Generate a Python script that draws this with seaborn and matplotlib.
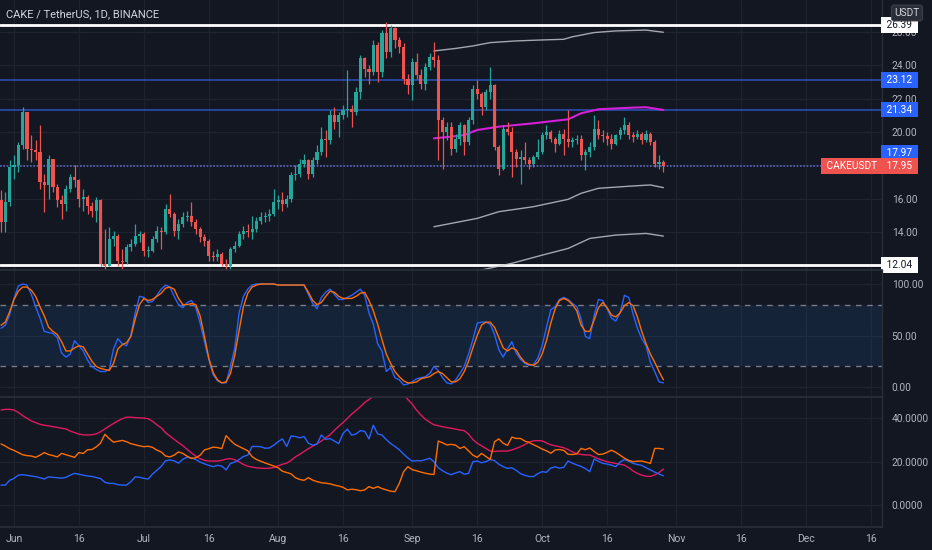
import numpy as np
import pandas as pd
import matplotlib
matplotlib.use("Agg")
import matplotlib.pyplot as plt
import matplotlib.dates as mdates
import matplotlib.transforms as mtransforms
import seaborn as sns

# ---- data (daily candles from 2021-05-29) ----
START = "2021-05-29"
first_open = 15.9
close = [14.6, 15.8, 17.9, 18.0, 19.2, 21.2, 19.0, 18.9, 18.8, 17.0,
         16.8, 18.4, 16.7, 15.9, 15.7, 16.6, 17.3, 17.1, 16.0, 16.1,
         15.6, 15.3, 15.9, 12.1, 12.0, 13.6, 13.8, 12.3, 12.2, 13.1,
         13.3, 13.8, 13.9, 12.9, 12.9, 13.6, 14.1, 14.0, 15.4, 15.1,
         14.1, 14.5, 14.9, 15.0, 14.6, 14.2, 13.7, 13.5, 12.6, 12.5,
         12.7, 12.1, 11.95, 13.0, 13.2, 13.9, 14.1, 14.0, 14.2, 14.7,
         14.9, 15.0, 15.1, 15.8, 15.9, 15.7, 16.0, 17.4, 17.5, 18.1,
         18.3, 17.5, 18.3, 18.8, 19.6, 19.5, 21.0, 20.6, 21.0, 21.3,
         21.4, 21.2, 22.4, 24.4, 23.8, 23.6, 25.2, 23.6, 25.9, 24.8,
         26.2, 25.5, 25.1, 23.2, 22.8, 24.2, 23.4, 22.9, 23.9, 24.5,
         24.3, 20.7, 20.0, 20.3, 19.0, 19.6, 20.4, 19.4, 20.7, 22.6,
         22.3, 21.5, 22.4, 22.8, 19.1, 17.8, 20.2, 20.0, 18.8, 18.4,
         18.5, 18.3, 18.1, 18.5, 18.8, 19.8, 20.0, 19.6, 19.3, 19.9,
         19.6, 19.4, 19.5, 19.6, 18.6, 18.8, 19.1, 20.2, 19.8, 19.75,
         19.6, 19.3, 19.8, 20.1, 20.4, 19.8, 19.7, 19.9, 19.5, 19.9,
         19.4, 18.1, 18.2, 17.95]
high = [16.5, 16.4, 18.3, 18.6, 19.4, 21.5, 21.2, 19.8, 19.5, 20.4,
        17.5, 18.6, 18.4, 16.9, 16.2, 16.8, 17.5, 18.0, 17.2, 16.6,
        16.2, 15.8, 16.1, 16.0, 14.2, 14.3, 14.1, 13.9, 13.0, 13.3,
        13.6, 14.5, 14.1, 14.0, 13.2, 13.8, 14.4, 14.3, 15.7, 16.3,
        15.2, 14.8, 15.2, 15.3, 15.8, 14.8, 14.3, 13.9, 13.6, 12.9,
        13.0, 12.8, 12.4, 13.1, 13.5, 14.1, 14.4, 14.5, 15.0, 14.9,
        15.2, 15.2, 15.4, 16.6, 16.2, 16.4, 16.2, 17.6, 18.0, 18.4,
        18.7, 18.4, 18.5, 19.2, 20.3, 20.1, 21.3, 21.5, 21.2, 21.6,
        23.7, 21.6, 22.7, 24.6, 24.5, 24.0, 25.5, 25.4, 26.1, 26.6,
        26.4, 26.3, 25.7, 25.3, 23.5, 24.4, 24.7, 23.8, 24.1, 24.7,
        25.4, 24.6, 20.9, 20.6, 20.6, 19.9, 20.6, 20.5, 20.9, 22.8,
        23.1, 22.4, 22.6, 23.9, 22.9, 19.2, 20.4, 20.6, 20.3, 19.0,
        18.9, 19.4, 18.5, 18.6, 19.6, 20.0, 20.4, 20.1, 19.7, 20.1,
        20.2, 21.3, 19.7, 19.8, 19.8, 19.0, 19.4, 21.0, 20.7, 20.1,
        20.0, 19.9, 19.9, 20.3, 20.9, 20.6, 20.0, 20.1, 20.0, 20.1,
        20.0, 19.5, 18.6, 18.3]
low = [14.0, 14.0, 15.6, 17.2, 17.6, 19.0, 18.3, 18.2, 18.3, 16.6,
       15.2, 16.0, 16.4, 15.5, 14.8, 15.3, 16.4, 16.7, 15.5, 15.3,
       15.1, 14.9, 14.6, 12.0, 11.7, 12.0, 13.2, 12.0, 11.8, 12.1,
       12.9, 13.2, 13.4, 12.6, 12.5, 12.8, 13.4, 13.0, 13.9, 14.9,
       13.8, 13.6, 14.3, 14.7, 14.4, 13.9, 13.4, 13.2, 12.3, 12.3,
       12.3, 12.0, 11.7, 11.8, 12.8, 13.1, 13.6, 13.7, 13.6, 14.0,
       14.5, 14.6, 14.7, 15.0, 15.4, 15.3, 15.5, 15.8, 17.1, 17.3,
       17.9, 17.2, 17.3, 18.1, 18.6, 18.5, 19.3, 20.2, 19.7, 20.8,
       20.9, 20.3, 21.0, 22.0, 23.3, 22.9, 23.4, 23.0, 23.3, 24.4,
       24.5, 25.0, 24.7, 22.9, 22.3, 21.9, 23.2, 22.6, 22.5, 23.7,
       23.9, 18.3, 17.8, 19.5, 18.6, 18.8, 19.2, 18.6, 19.2, 20.5,
       22.0, 21.0, 21.3, 22.0, 18.9, 17.4, 17.7, 19.8, 17.3, 17.9,
       16.9, 18.1, 17.8, 17.9, 18.4, 18.7, 19.6, 19.4, 18.8, 19.2,
       18.6, 19.1, 19.1, 19.3, 18.3, 17.7, 18.5, 18.9, 19.6, 19.4,
       19.2, 19.0, 19.2, 19.6, 19.9, 19.6, 19.4, 19.6, 19.3, 19.4,
       19.2, 17.9, 17.8, 17.6]

stoch_k = [57, 60, 70, 86, 98, 100, 99, 90, 78, 67,
           54, 53, 52, 48, 33, 29, 32, 45, 40, 35,
           26, 20, 17, 15, 15, 17, 37, 47, 42, 40,
           50, 72, 88, 87, 82, 83, 89, 95, 99, 97,
           88, 80, 77, 82, 84, 77, 62, 44, 27, 12,
           6, 4, 4, 20, 38, 72, 88, 95, 99, 100,
           100, 100, 100, 100, 99, 99, 99, 99, 99, 99,
           99, 90, 81, 76, 87, 92, 95, 90, 85, 85,
           87, 89, 92, 95, 89, 72, 61, 42, 35, 15,
           19, 9, 7, 2, 3, 5, 8, 9, 10, 13,
           20, 16, 9, 4, 3, 7, 13, 20, 32, 46,
           62, 63, 63, 61, 51, 36, 29, 37, 44, 33,
           27, 23, 21, 22, 28, 40, 58, 75, 78, 85,
           87, 85, 81, 78, 66, 49, 47, 69, 85, 84,
           76, 67, 64, 72, 89, 87, 71, 57, 47, 40,
           24, 15, 5, 4]
stoch_d = [60, 63, 73, 85, 93, 97, 97, 94, 88, 78,
           69, 58, 54, 51, 44, 35, 35, 38, 40, 39,
           32, 25, 20, 18, 17, 16, 23, 37, 41, 43,
           49, 66, 80, 86, 84, 85, 88, 91, 96, 97,
           95, 86, 80, 80, 81, 80, 69, 49, 28, 14,
           7, 4, 5, 13, 31, 55, 78, 91, 97, 99,
           100, 100, 100, 100, 99, 99, 99, 99, 99, 99,
           99, 92, 84, 80, 82, 88, 93, 92, 88, 86,
           86, 86, 88, 91, 92, 84, 74, 61, 46, 32,
           23, 15, 10, 6, 4, 4, 5, 8, 9, 10,
           13, 15, 13, 9, 5, 5, 8, 15, 25, 38,
           50, 60, 63, 63, 58, 48, 38, 35, 38, 36,
           29, 24, 22, 21, 24, 32, 45, 62, 76, 84,
           86, 84, 80, 74, 60, 54, 54, 65, 77, 82,
           77, 70, 68, 72, 79, 82, 79, 68, 54, 42,
           32, 24, 15, 7]

adx = [43.8, 44.1, 44.1, 43.8, 42.7, 41.2, 40.0, 38.8, 38.0, 37.2,
       36.8, 36.5, 36.1, 35.8, 35.4, 35.1, 34.1, 33.4, 32.7, 32.4,
       32.3, 32.4, 32.8, 33.8, 35.1, 36.4, 37.6, 38.8, 39.8, 40.5,
       40.5, 40.3, 40.2, 40.1, 39.8, 38.6, 37.0, 35.6, 33.4, 31.8,
       30.3, 28.8, 27.4, 25.7, 24.0, 22.5, 21.4, 20.6, 20.3, 20.3,
       20.3, 20.6, 21.2, 21.4, 20.9, 19.9, 18.7, 17.9, 17.5, 17.2,
       17.0, 16.9, 17.0, 17.3, 18.1, 18.8, 19.3, 20.6, 22.2, 23.4,
       24.7, 26.0, 27.1, 28.3, 29.5, 31.0, 32.4, 34.4, 36.3, 38.0,
       39.9, 41.9, 43.6, 45.3, 47.3, 48.6, 50.2, 51.5, 52.5, 53.2,
       53.5, 53.3, 52.6, 51.0, 48.6, 46.5, 43.7, 41.5, 39.6, 38.2,
       37.0, 36.6, 36.1, 35.7, 35.4, 35.0, 34.6, 34.3, 32.7, 30.2,
       28.5, 27.3, 26.1, 24.9, 24.7, 24.9, 24.9, 24.9, 25.4, 26.1,
       26.9, 27.9, 29.1, 29.6, 29.7, 29.6, 28.6, 27.8, 27.3, 26.9,
       26.4, 25.6, 24.5, 23.7, 23.3, 23.1, 23.1, 22.2, 21.3, 20.6,
       20.0, 19.6, 19.2, 18.8, 18.4, 17.2, 15.7, 14.6, 13.8, 13.3,
       13.2, 13.9, 15.0, 16.6]
plus_di = [9.2, 9.2, 11.4, 12.3, 13.8, 14.0, 13.7, 13.4, 13.1, 12.6,
           12.0, 13.0, 12.8, 12.6, 12.4, 12.8, 13.8, 14.6, 14.2, 13.8,
           13.4, 13.2, 12.7, 12.2, 10.5, 10.0, 10.0, 9.4, 9.2, 9.2,
           10.8, 13.0, 12.8, 12.3, 12.0, 14.3, 16.0, 17.8, 20.4, 20.8,
           20.4, 19.3, 21.1, 22.1, 21.7, 21.0, 19.8, 19.0, 18.3, 17.7,
           18.3, 18.0, 16.2, 19.2, 19.8, 21.0, 22.4, 23.0, 27.0, 27.0,
           26.9, 26.2, 26.3, 27.6, 29.2, 30.5, 27.0, 31.8, 31.6, 31.0,
           31.6, 28.5, 27.6, 28.1, 32.3, 30.3, 30.6, 29.5, 28.3, 33.0,
           35.0, 32.2, 32.8, 34.3, 34.0, 30.5, 36.8, 32.8, 32.3, 30.2,
           28.4, 27.0, 25.5, 23.5, 21.7, 20.2, 20.5, 20.4, 20.9, 21.6,
           20.0, 17.2, 15.8, 14.7, 14.0, 14.8, 15.4, 14.2, 14.6, 20.0,
           20.3, 19.5, 20.0, 21.0, 20.5, 18.8, 17.7, 16.9, 17.2, 16.0,
           14.5, 13.7, 13.2, 13.1, 14.5, 15.4, 15.1, 17.1, 17.6, 17.0,
           17.4, 20.3, 19.3, 18.5, 17.8, 16.8, 15.4, 21.2, 20.2, 19.2,
           18.9, 18.4, 17.7, 19.8, 21.0, 20.2, 19.2, 18.7, 18.3, 17.2,
           16.2, 15.2, 14.3, 13.5]
minus_di = [28.2, 27.2, 26.0, 25.2, 24.2, 23.2, 22.8, 22.6, 22.0, 23.0,
            24.2, 23.3, 22.8, 22.2, 23.8, 23.2, 22.6, 22.0, 24.2, 23.8,
            25.5, 25.6, 26.8, 28.6, 32.6, 30.6, 29.0, 29.4, 29.8, 29.2,
            28.3, 27.8, 27.3, 26.9, 27.1, 26.6, 25.3, 24.5, 22.6, 22.2,
            23.0, 24.5, 23.8, 22.5, 21.5, 21.8, 23.0, 25.4, 26.0, 26.7,
            26.5, 26.0, 32.0, 29.8, 28.0, 27.0, 26.0, 25.0, 22.3, 21.0,
            20.2, 19.4, 18.7, 18.0, 17.2, 15.6, 15.0, 14.4, 12.6, 11.8,
            11.4, 12.6, 11.5, 10.8, 10.3, 10.1, 9.8, 9.2, 8.8, 8.2,
            7.0, 7.3, 7.1, 6.6, 7.0, 8.5, 7.7, 8.5, 7.6, 7.0,
            6.4, 6.2, 10.0, 15.4, 17.7, 16.3, 15.8, 15.2, 14.7, 14.3,
            14.1, 29.5, 28.7, 27.7, 28.0, 27.6, 26.1, 26.9, 25.0, 23.0,
            22.0, 23.8, 22.4, 21.0, 29.2, 30.5, 28.5, 27.5, 31.3, 30.7,
            30.7, 29.5, 28.8, 27.8, 26.9, 25.8, 25.0, 23.9, 25.4, 25.6,
            25.2, 23.4, 23.3, 23.6, 26.1, 25.5, 26.3, 24.7, 23.3, 23.5,
            24.3, 25.3, 24.3, 23.0, 21.6, 20.6, 20.0, 20.2, 20.3, 19.8,
            19.2, 26.1, 26.1, 25.8]

# anchored bands (day offset from START, value)
upper_day = [100, 105, 109, 113, 119, 124, 130, 132, 137, 142, 149, 153]
upper_val = [24.85, 25.0, 25.15, 25.35, 25.45, 25.5, 25.55, 25.7, 25.95, 26.05, 26.1, 25.97]
mid_day = [100, 106, 110, 115, 123, 131, 134, 138, 146, 150, 153]
mid_val = [14.33, 14.63, 14.83, 15.23, 15.53, 15.97, 16.33, 16.63, 16.77, 16.83, 16.67]
bot_day = [108, 111, 118, 125, 131, 136, 142, 149, 153]
bot_val = [11.5, 11.74, 12.14, 12.63, 13.03, 13.63, 13.83, 13.93, 13.77]
vwap_day = [100, 104, 107, 110, 115, 123, 131, 134, 138, 146, 149, 153]
vwap_val = [19.62, 19.72, 19.82, 20.12, 20.32, 20.52, 20.76, 21.12, 21.36, 21.46, 21.48, 21.32]

white_levels = [26.39, 12.04]
blue_levels = [23.12, 21.34]
dotted_level = 17.97
last_price = 17.95

price_ticks = [14, 16, 18, 20, 22, 24, 26]
price_labels = ["14.00", "16.00", "", "20.00", "22.00", "24.00", "26.00"]

tick_dates = ["2021-06-01", "2021-06-16", "2021-07-01", "2021-07-16", "2021-08-01",
              "2021-08-16", "2021-09-01", "2021-09-16", "2021-10-01", "2021-10-16",
              "2021-11-01", "2021-11-16", "2021-12-01", "2021-12-16"]
tick_labels = ["Jun", "16", "Jul", "16", "Aug", "16", "Sep", "16", "Oct", "16",
               "Nov", "16", "Dec", "16"]

# ---- style ----
BG = "#131722"
GRID = "#1e222d"
SEP = "#2a2e39"
TXT = "#b2b5be"
UP = "#26a69a"
DOWN = "#ef5350"
BLUE = "#2962ff"
ORANGE = "#ff6d00"

sns.set_theme(style="dark", rc={"axes.facecolor": BG, "figure.facecolor": BG})
plt.rcParams["font.family"] = ["Roboto", "DejaVu Sans"]

W, H, R = 932, 550, 882
fig = plt.figure(figsize=(W / 100, H / 100), dpi=100)
ax_p = fig.add_axes([0, 1 - 270 / H, R / W, 270 / H])
ax_s = fig.add_axes([0, 1 - 397 / H, R / W, 127 / H], sharex=ax_p)
ax_d = fig.add_axes([0, 1 - 527 / H, R / W, 130 / H], sharex=ax_p)

start = pd.Timestamp(START)
dates = pd.date_range(START, periods=len(close), freq="D")
dnum = mdates.date2num(dates.to_pydatetime())


def day_num(days):
    return mdates.date2num((start + pd.to_timedelta(days, unit="D")).to_pydatetime())


c = np.array(close)
o = np.r_[first_open, c[:-1]]
cols = np.where(c >= o, UP, DOWN)

# candles
ax_p.vlines(dnum, low, high, colors=cols, linewidth=0.9, zorder=3)
ax_p.bar(dnum, np.maximum(np.abs(c - o), 0.05), bottom=np.minimum(o, c),
         width=0.72, color=cols, linewidth=0, zorder=4)

for lv in white_levels:
    ax_p.axhline(lv, color="white", lw=2, zorder=2)
for lv in blue_levels:
    ax_p.axhline(lv, color="#2f57c8", lw=1.2, alpha=0.85, zorder=2)
ax_p.axhline(dotted_level, color="#5a66c4", lw=1.2, ls=(0, (1, 1)), zorder=2)

for dd, vv in [(upper_day, upper_val), (mid_day, mid_val), (bot_day, bot_val)]:
    sns.lineplot(x=day_num(dd), y=vv, ax=ax_p, color="#c9cbd1", linewidth=1, alpha=0.8)
sns.lineplot(x=day_num(vwap_day), y=vwap_val, ax=ax_p, color="#d51fd8", linewidth=1.5)

# stoch rsi
ax_s.axhspan(20, 80, color="#2196f3", alpha=0.1, lw=0)
for lv in (80, 20):
    ax_s.axhline(lv, color="#787b86", lw=1, ls=(0, (4, 4)))
sns.lineplot(x=dnum, y=stoch_k, ax=ax_s, color=BLUE, linewidth=1.0)
sns.lineplot(x=dnum, y=stoch_d, ax=ax_s, color=ORANGE, linewidth=1.0)

# dmi
sns.lineplot(x=dnum, y=adx, ax=ax_d, color="#e0195f", linewidth=1.0)
sns.lineplot(x=dnum, y=plus_di, ax=ax_d, color=BLUE, linewidth=1.0)
sns.lineplot(x=dnum, y=minus_di, ax=ax_d, color=ORANGE, linewidth=1.0)

# axes cosmetics
tick_num = mdates.date2num(pd.to_datetime(tick_dates).to_pydatetime())
ax_p.set_xlim(dnum[0] - 0.23, dnum[0] + 203.5)
ax_p.set_ylim(11.74, 27.9)
ax_s.set_ylim(-9.7, 113.6)
ax_d.set_ylim(-10.1, 49.8)

ax_p.set_yticks(price_ticks)
ax_p.set_yticklabels(price_labels)
ax_s.set_yticks([0, 50, 100])
ax_s.set_yticklabels([f"{v:.2f}" for v in [0, 50, 100]])
ax_d.set_yticks([0, 20, 40])
ax_d.set_yticklabels([f"{v:.4f}" for v in [0, 20, 40]])

for ax in (ax_p, ax_s, ax_d):
    ax.set_facecolor(BG)
    ax.set_xlabel("")
    ax.set_ylabel("")
    ax.grid(True, color=GRID, lw=0.9)
    ax.set_axisbelow(True)
    ax.yaxis.tick_right()
    ax.tick_params(axis="y", length=0, pad=7, labelcolor=TXT, labelsize=7.3)
    ax.tick_params(axis="x", length=0, pad=5, labelcolor=TXT, labelsize=7.5)
    for side in ("left", "bottom", "top"):
        ax.spines[side].set_visible(False)
    ax.spines["right"].set_color(SEP)
    ax.spines["right"].set_linewidth(1)

ax_d.set_xticks(tick_num)
ax_d.set_xticklabels(tick_labels)
ax_p.tick_params(labelbottom=False)
ax_s.tick_params(labelbottom=False)
for ax in (ax_s, ax_d):
    ax.spines["top"].set_visible(True)
    ax.spines["top"].set_color(SEP)
ax_d.spines["bottom"].set_visible(True)
ax_d.spines["bottom"].set_color(SEP)

# price tags on the right scale
trans = mtransforms.blended_transform_factory(ax_p.transAxes, ax_p.transData)


def tag(y, s, fc, tc, dy=0.0, x=1.0025, ha="left"):
    t = trans + mtransforms.ScaledTranslation(0, dy / 100, fig.dpi_scale_trans)
    ax_p.text(x, y, s, transform=t, ha=ha, va="center", fontsize=7.3, color=tc,
              bbox=dict(boxstyle="square,pad=0.28", fc=fc, ec="none"),
              clip_on=False, zorder=10)


tag(white_levels[0], f" {white_levels[0]:.2f} ", "white", "#131722")
tag(white_levels[1], f" {white_levels[1]:.2f} ", "white", "#131722")
tag(blue_levels[0], f" {blue_levels[0]:.2f} ", BLUE, "white")
tag(blue_levels[1], f" {blue_levels[1]:.2f} ", BLUE, "white")
tag(dotted_level, f" {dotted_level:.2f} ", BLUE, "white", dy=13)
tag(last_price, f" {last_price:.2f} ", DOWN, "white")
tag(last_price, " CAKEUSDT ", DOWN, "white", x=0.9975, ha="right")

fig.text(907 / W, 1 - 13 / H, "USDT", ha="center", va="center", fontsize=7.3, color="#d1d4dc",
         bbox=dict(boxstyle="round,pad=0.3", fc="#2a2e39", ec="#434651", lw=0.6))
fig.text(6 / W, 1 - 14 / H, "CAKE / TetherUS, 1D, BINANCE", ha="left", va="center",
         fontsize=8, color="#d1d4dc")

fig.savefig("out.png", dpi=100, facecolor=BG)
